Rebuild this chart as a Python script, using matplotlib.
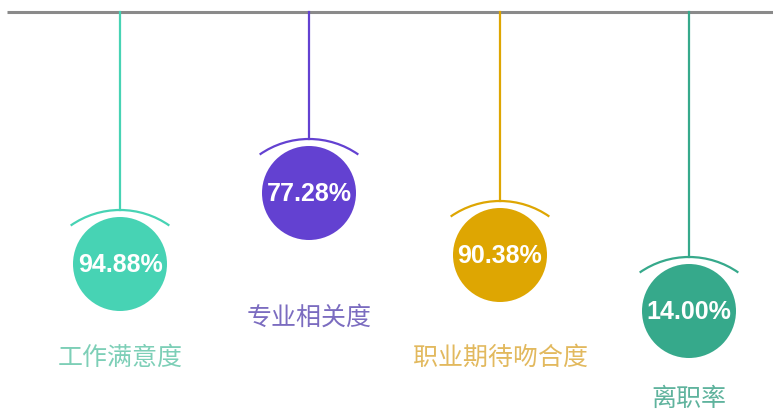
import matplotlib
matplotlib.use('Agg')
import matplotlib.pyplot as plt
from matplotlib.patches import Circle, Arc

# Dados
categorias = ['工作满意度', '专业相关度', '职业期待吻合度', '离职率']
valores = [94.88, 77.28, 90.38, 14.00]

# Layout (pixels)
pos_x = [120, 309, 500, 689]
centro_y = [265, 194, 256, 312]
label_y = [358, 318, 358, 399]
raio = 47
cores = ['#47d3b4', '#6341d1', '#dea602', '#36a98b']
cores_label = ['#7dcfb7', '#7b6cc0', '#e2b95e', '#5fb39d']

fig = plt.figure(figsize=(7.73, 4.14), dpi=100)
ax = fig.add_axes([0, 0, 1, 1])
ax.set_xlim(0, 773)
ax.set_ylim(414, 0)
ax.set_aspect('equal')
ax.axis('off')

# Linha de cima
ax.plot([7, 773], [13, 13], color='#8a8a8a', lw=2.2, solid_capstyle='butt')

for cat, v, x, cy, ly, c, cl in zip(categorias, valores, pos_x, centro_y, label_y, cores, cores_label):
    topo_arco = cy - raio - 7
    ax.plot([x, x], [13, topo_arco], color=c, lw=1.6)
    # arco acima do circulo
    R = 86
    ax.add_patch(Arc((x, topo_arco + R), 2 * R, 2 * R, theta1=235, theta2=305,
                     color=c, lw=1.6))
    ax.add_patch(Circle((x, cy), raio, color=c, lw=0))
    ax.text(x, cy, f'{v:.2f}%', color='white', fontsize=18, fontweight='bold',
            family='Liberation Sans', ha='center', va='center')
    ax.text(x, ly, cat, color=cl, fontsize=18, family='Noto Sans CJK SC',
            ha='center', va='center')

fig.savefig('out.png', dpi=100)
